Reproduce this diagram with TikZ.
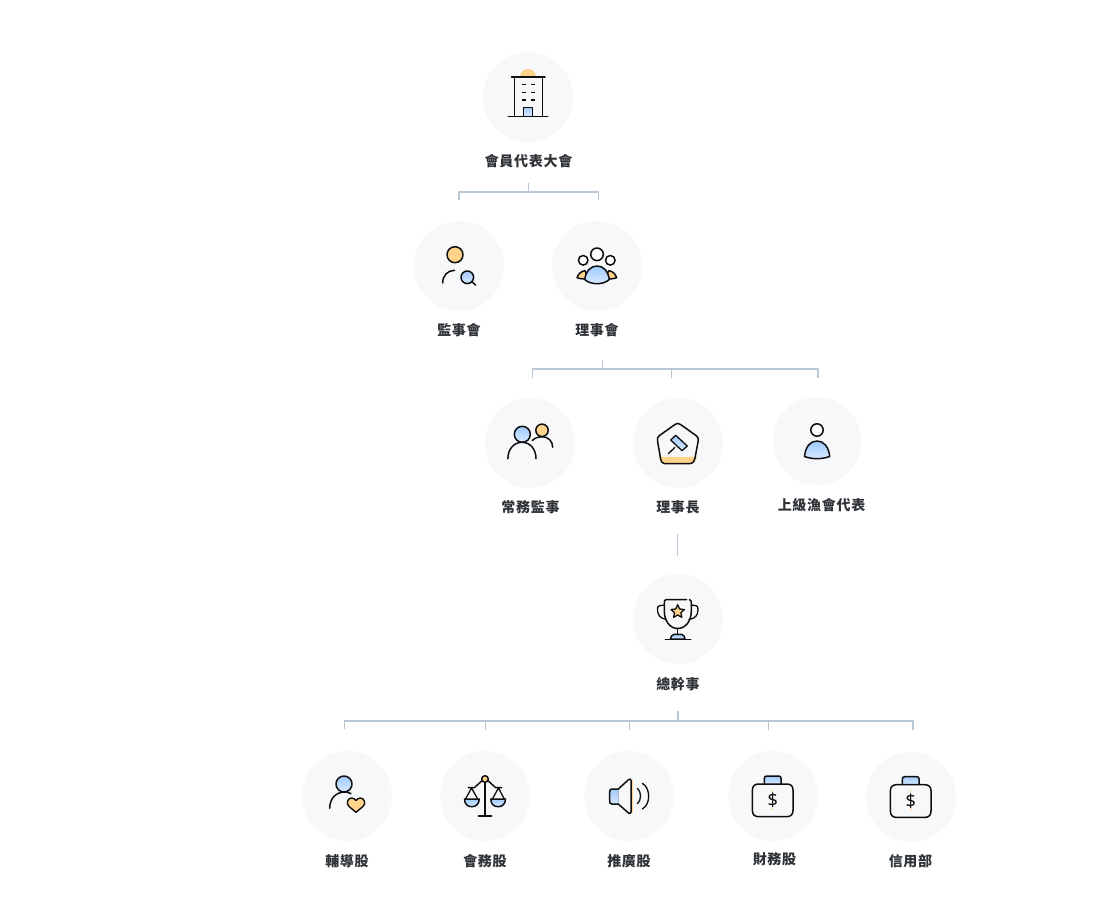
\documentclass[tikz,border=0pt]{standalone}
\usepackage{fontspec}
\usetikzlibrary{shapes.geometric}
\newfontfamily\cjkfont[LetterSpace=5]{Noto Sans CJK TC}
\newfontfamily\dollarfont{Noto Sans}
\definecolor{disc}{HTML}{F7F8FA}
\definecolor{conn}{HTML}{B9C7D6}
\definecolor{ink}{HTML}{2F3338}
\definecolor{strokeblk}{HTML}{0E0E10}
\definecolor{orangef}{HTML}{FFD48A}
\definecolor{bluetop}{HTML}{9FCAFF}
\definecolor{bluebot}{HTML}{D9E9FF}
\tikzset{
  x=1pt,y=-1pt,
  disc/.style={circle,fill=disc,draw=none,minimum size=90pt,inner sep=0pt},
  lbl/.style={font=\cjkfont\bfseries\fontsize{14pt}{16pt}\selectfont,text=ink,inner sep=0pt,anchor=center},
  wire/.style={draw=conn,line width=1.1pt},
  ic/.style={draw=strokeblk,line width=1.5pt,line cap=round,line join=round},
  thin ic/.style={draw=strokeblk,line width=1.3pt,line cap=round,line join=round},
  bluefill/.style={top color=bluetop,bottom color=bluebot},
  orf/.style={fill=orangef},
}
\newcommand{\moneybag}[1]{%
  \begin{scope}[shift={(#1)}]
    \draw[ic,bluefill] (-8.4,-12) -- (-8.4,-17.5) .. controls (-8.4,-19.5) and (-7.4,-20) .. (-5.5,-20) -- (5.5,-20) .. controls (7.4,-20) and (8.4,-19.5) .. (8.4,-17.5) -- (8.4,-12);
    \draw[ic,fill=disc] (-14,-12) -- (14,-12) .. controls (18,-12) and (20.3,-10) .. (20.3,-6) -- (20.3,14.5) .. controls (20.3,18.5) and (18,20.7) .. (14,20.7) -- (-14,20.7) .. controls (-18,20.7) and (-20.3,18.5) .. (-20.3,14.5) -- (-20.3,-6) .. controls (-20.3,-10) and (-18,-12) .. (-14,-12) -- cycle;
    \draw[draw=orangef,line width=1.2pt] (0,-6.5) -- (0,-3.5) (0,11) -- (0,14);
    \node[inner sep=0pt,text=strokeblk,font=\dollarfont\fontsize{18pt}{18pt}\selectfont] at (0,4) {\$};
  \end{scope}}
\begin{document}
\begin{tikzpicture}
\fill[white] (0,0) rectangle (1120,923);
\path[use as bounding box] (0,0) rectangle (1120,923);

% discs
\node[disc] (d1) at (528,97) {};
\node[disc] (d2) at (459,266) {};
\node[disc] (d3) at (597,266) {};
\node[disc] (d4) at (530,443) {};
\node[disc] (d5) at (678,443) {};
\node[disc,minimum size=88pt] (d6) at (817,441) {};
\node[disc] (d7) at (678,619) {};
\node[disc] (d8) at (347,796) {};
\node[disc] (d9) at (485,796) {};
\node[disc] (d10) at (629,796) {};
\node[disc] (d11) at (773,796) {};
\node[disc] (d12) at (911,797) {};

% labels
\node[lbl] (t1) at (528.5,161) {會員代表大會};
\node[lbl] (t2) at (459,330) {監事會};
\node[lbl] (t3) at (597,330) {理事會};
\node[lbl] (t4) at (530.5,507) {常務監事};
\node[lbl] (t5) at (678,507) {理事長};
\node[lbl] (t6) at (821.5,505) {上級漁會代表};
\node[lbl] (t7) at (678,684) {總幹事};
\node[lbl] (t8) at (347,861) {輔導股};
\node[lbl] (t9) at (485,861) {會務股};
\node[lbl] (t10) at (629,861) {推廣股};
\node[lbl] (t11) at (774.5,859) {財務股};
\node[lbl] (t12) at (910.5,861.5) {信用部};

% connectors
\coordinate (a0) at (528.5,183); \coordinate (a1) at (528.5,192);
\coordinate (a2) at (459,192); \coordinate (a3) at (459,200.5);
\coordinate (a4) at (598.5,192); \coordinate (a5) at (598.5,200.5);
\draw[wire] (a0) -- (a1);
\draw[wire] (a3) -- (a2) -- (a4) -- (a5);

\coordinate (b0) at (602.5,360); \coordinate (b1) at (602.5,369);
\coordinate (b2) at (532.5,369); \coordinate (b3) at (532.5,377.5);
\coordinate (b4) at (671.5,369); \coordinate (b5) at (671.5,377.5);
\coordinate (b6) at (818,369); \coordinate (b7) at (818,377.5);
\draw[wire] (b0) -- (b1);
\draw[wire] (b3) -- (b2) -- (b6) -- (b7);
\draw[wire] (b4) -- (b5);

\coordinate (c0) at (677.5,534); \coordinate (c1) at (677.5,556);
\draw[wire] (c0) -- (c1);

\coordinate (e0) at (678,711); \coordinate (e1) at (678,721);
\coordinate (e2) at (344.5,721); \coordinate (e3) at (344.5,729);
\coordinate (e4) at (485.5,721); \coordinate (e5) at (485.5,730);
\coordinate (e6) at (629.5,721); \coordinate (e7) at (629.5,730);
\coordinate (e8) at (768.5,721); \coordinate (e9) at (768.5,729.5);
\coordinate (e10) at (913,721); \coordinate (e11) at (913,729.5);
\draw[wire] (e0) -- (e1);
\draw[wire] (e3) -- (e2) -- (e10) -- (e11);
\draw[wire] (e4) -- (e5);
\draw[wire] (e6) -- (e7);
\draw[wire] (e8) -- (e9);

% building
\fill[orangef] (520,77) .. controls (520,72) and (523.5,69) .. (528,69) .. controls (532.5,69) and (536,72) .. (536,77) -- cycle;
\draw[ic,bluefill] (523.3,116.3) -- (523.3,107.3) -- (532.7,107.3) -- (532.7,116.3);
\draw[ic] (511.5,77) -- (545,77);
\draw[ic] (514.7,77) -- (514.7,116.3);
\draw[ic] (542.3,77) -- (542.3,116.3);
\draw[ic] (508.3,116.3) -- (547.7,116.3);
\foreach \yy in {84.7,92.3,100}{
  \draw[draw=strokeblk,line width=1.2pt] (521.7,\yy) -- (525.5,\yy) (531,\yy) -- (534.7,\yy);
}

% supervisor
\draw[ic,orf] (455,254.7) circle[radius=8pt];
\draw[ic] (442.7,283) .. controls (442.7,275.5) and (447.5,270.5) .. (454.5,270.3);
\draw[ic,bluefill] (467.3,277.3) circle[radius=6.3pt];
\draw[ic] (472,281.8) -- (475.5,285);

% board group
\draw[ic,orf] (577,277.7) .. controls (578.5,273.5) and (581,271.3) .. (585,270.7) .. controls (587,273) and (586,278) .. (585,279) .. controls (582,279) and (579,278.5) .. (577,277.7) -- cycle;
\draw[ic,orf] (616.7,277.7) .. controls (615.2,273.5) and (612.7,271.3) .. (608.7,270.7) .. controls (606.7,273) and (607.7,278) .. (608.7,279) .. controls (611.7,279) and (614.7,278.5) .. (616.7,277.7) -- cycle;
\draw[ic,bluefill] (584.7,279.5) .. controls (586,271) and (590.5,266) .. (597,266) .. controls (603.5,266) and (608,271) .. (609.3,279.5) .. controls (606,282.5) and (601.5,283.7) .. (597,283.7) .. controls (592.5,283.7) and (588,282.5) .. (584.7,279.5) -- cycle;
\draw[ic,fill=white] (597,254.3) circle[radius=6.3pt];
\draw[ic,fill=white] (583.2,260.3) circle[radius=4.8pt];
\draw[ic,fill=white] (610.3,260.3) circle[radius=4.8pt];

% two people
\draw[ic] (532.3,440.5) .. controls (535,437.8) and (538.5,436.7) .. (542,436.7) .. controls (548,436.7) and (552.7,441) .. (552.7,447.3);
\draw[ic,orf] (542,430.3) circle[radius=6.2pt];
\draw[ic,bluefill] (522.3,434.3) circle[radius=8pt];
\draw[ic] (507.9,458.7) .. controls (507.9,449) and (514,442.3) .. (522,442.3) .. controls (530,442.3) and (536,449) .. (536,458.7);

% gavel
\fill[orangef] (658.3,456.8) -- (697.3,456.8) -- (695,461) .. controls (693.5,463) and (692,463.7) .. (690,463.7) -- (665,463.7) .. controls (663,463.7) and (661.5,463) .. (660.5,461) -- cycle;
\draw[ic] (675,424.5) .. controls (677,423) and (678.5,423) .. (680.5,424.5) -- (696,435.5) .. controls (698,437) and (698.6,438.5) .. (698.2,441) -- (695,458) .. controls (694,462) and (692.5,463.7) .. (689,463.7) -- (666,463.7) .. controls (662.5,463.7) and (661,462) .. (660.5,458) -- (657.5,441) .. controls (657,438.5) and (657.5,437) .. (659.5,435.5) -- cycle;
\draw[thin ic,bluefill] (675.7,435.3) -- (687.3,446) -- (682,450.7) -- (670.7,440) -- cycle;
\draw[thin ic] (675,447.3) -- (668.3,453.7);

% council rep
\draw[ic,fill=white] (817,430) circle[radius=6.2pt];
\draw[ic,bluefill] (804.5,456.5) .. controls (805.5,447) and (810,441) .. (817,441) .. controls (824,441) and (828.7,447) .. (829.7,456.5) .. controls (825.5,458) and (821,458.7) .. (817,458.7) .. controls (813,458.7) and (808.5,458) .. (804.5,456.5) -- cycle;

% trophy
\draw[ic,bluefill] (670.5,639) -- (671.5,636) .. controls (672,634.5) and (673,634.3) .. (674,634.3) -- (681.5,634.3) .. controls (682.5,634.3) and (683.5,634.5) .. (684,636) -- (685,639) -- cycle;
\draw[ic] (665.3,639.3) -- (690.7,639.3);
\draw[ic] (677.7,628.5) -- (677.7,634.3);
\draw[ic] (686.5,599.7) -- (666,599.7) .. controls (664.5,599.7) and (664.3,601) .. (664.3,603) -- (664.3,611) .. controls (664.3,621) and (670,628.5) .. (677.7,628.5) .. controls (685.5,628.5) and (691.3,621) .. (691.3,611) -- (691.3,603) .. controls (691.3,601) and (691,600) .. (689.5,599.7);
\draw[thin ic] (664.3,605) -- (659.5,605.7) .. controls (657.7,606) and (657.3,607.5) .. (657.5,610) .. controls (657.7,615) and (660,618.5) .. (666.5,619.5);
\draw[thin ic] (691.3,605) -- (696,605.7) .. controls (697.8,606) and (698.2,607.5) .. (698,610) .. controls (697.8,615) and (695.5,618.5) .. (689,619.5);
\node[star,star points=5,star point ratio=2.1,minimum size=14pt,inner sep=0pt,fill=orangef,draw=strokeblk,line width=1.3pt,line join=round] (star1) at (677.7,611.7) {};

% helper
\draw[ic] (329.7,808.3) .. controls (329.7,799) and (335.5,792) .. (345,792) .. controls (347,792) and (349,792.5) .. (351,793.7);
\draw[ic,bluefill] (344,784) circle[radius=8pt];
\draw[ic,orf,line width=1.4pt] (356,812.3) -- (349,806.5) .. controls (345.5,803) and (348,798) .. (351.5,798) .. controls (353.5,798) and (355,799) .. (356,800.5) .. controls (357,799) and (358.5,798) .. (360.5,798) .. controls (364,798) and (366.5,803) .. (363,806.5) -- cycle;

% scale
\draw[ic] (482,780.7) -- (474.3,787.7) -- (468.3,787.7);
\draw[ic] (488,780.7) -- (495.7,787.7) -- (501.7,787.7);
\draw[ic,line width=1.8pt] (485,782) -- (485,816);
\draw[ic,line width=1.8pt] (478.5,816) -- (491.5,816);
\draw[ic,orf] (485,779) circle[radius=3.3pt];
\draw[thin ic] (465.5,799) -- (471.5,788) -- (477.7,799);
\draw[thin ic] (492.3,799) -- (498.5,788) -- (504.3,799);
\draw[ic,bluefill] (464.5,799) -- (479.2,799) .. controls (479.2,804) and (476,806.7) .. (471.8,806.7) .. controls (467.5,806.7) and (464.5,804) .. (464.5,799) -- cycle;
\draw[ic,bluefill] (490.8,799) -- (505.5,799) .. controls (505.5,804) and (502.3,806.7) .. (498.1,806.7) .. controls (493.8,806.7) and (490.8,804) .. (490.8,799) -- cycle;

% speaker
\fill[bluefill] (612,789) -- (618.3,789) -- (618.3,804) -- (612,804) .. controls (610,804) and (609.7,803) .. (609.7,801) -- (609.7,792) .. controls (609.7,790) and (610,789) .. (612,789) -- cycle;
\draw[ic] (618.3,789) -- (612,789) .. controls (610,789) and (609.7,790) .. (609.7,792) -- (609.7,801) .. controls (609.7,803) and (610,804) .. (612,804) -- (618.3,804) -- (628.5,813) .. controls (630,814) and (631,813.5) .. (631,812) -- (631,780.5) .. controls (631,779) and (630,778.5) .. (628.5,779.7) -- cycle;
\draw[draw=orangef,line width=1.3pt] (632.3,780) -- (632.3,812.5);
\draw[thin ic] (637.5,788.5) .. controls (641.5,791.5) and (641.5,800.5) .. (637.5,803.5);
\draw[thin ic] (642.3,783.3) .. controls (650.8,788) and (650.8,804.5) .. (642.3,809);

% money bags
\moneybag{772.7,796}
\moneybag{910.7,796.7}

\end{tikzpicture}
\end{document}
